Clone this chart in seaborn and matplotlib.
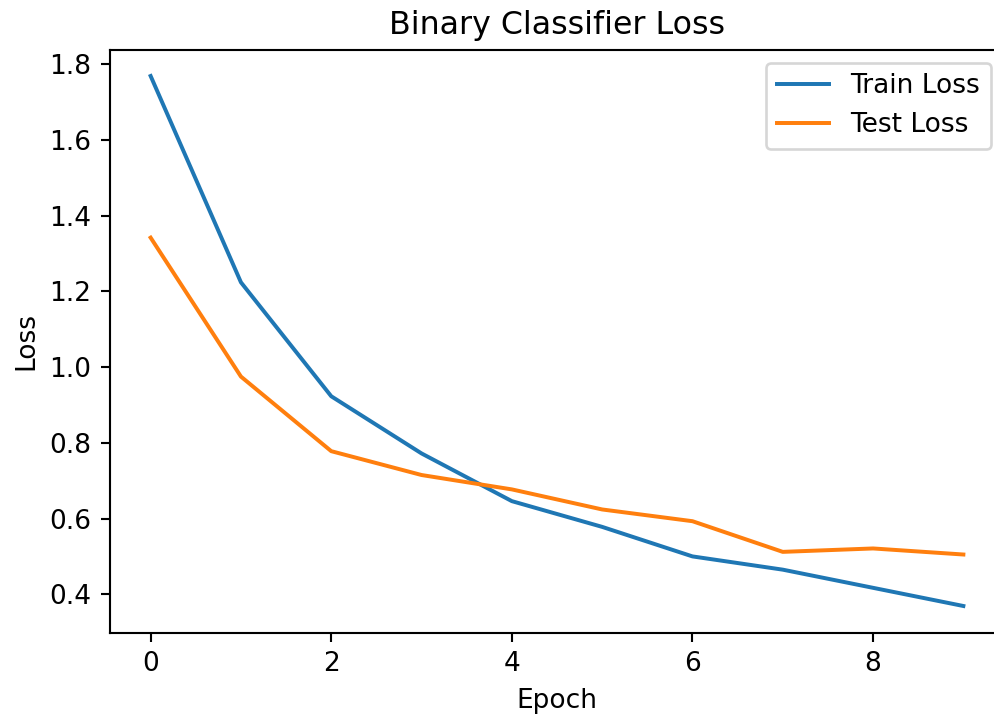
import pandas as pd
import matplotlib
matplotlib.use("Agg")
import matplotlib.pyplot as plt
import seaborn as sns

# Loss values
epochs = list(range(10))
train_loss = [1.769, 1.224, 0.923, 0.772, 0.646, 0.578, 0.500, 0.465, 0.417, 0.369]
test_loss = [1.342, 0.975, 0.778, 0.715, 0.677, 0.624, 0.593, 0.512, 0.521, 0.505]

data = pd.DataFrame({'Epoch': epochs, 'Train Loss': train_loss, 'Test Loss': test_loss})

plt.style.use('default')
dpi = 190
fig = plt.figure(figsize=(995 / dpi, 717 / dpi), dpi=dpi)
# right spine falls just outside the image, as in the reference crop
ax = fig.add_axes([110 / 995, 1 - 632.5 / 717, (1004 - 110) / 995, (632.5 - 49.5) / 717])

sns.lineplot(data=data, x='Epoch', y='Train Loss', ax=ax, color='#1f77b4', label='Train Loss')
sns.lineplot(data=data, x='Epoch', y='Test Loss', ax=ax, color='#ff7f0e', label='Test Loss')

ax.set_title('Binary Classifier Loss', fontsize=12)
ax.set_xlabel('Epoch')
ax.set_ylabel('Loss')
ax.legend(loc='upper right')

fig.savefig('out.png', dpi=dpi)
